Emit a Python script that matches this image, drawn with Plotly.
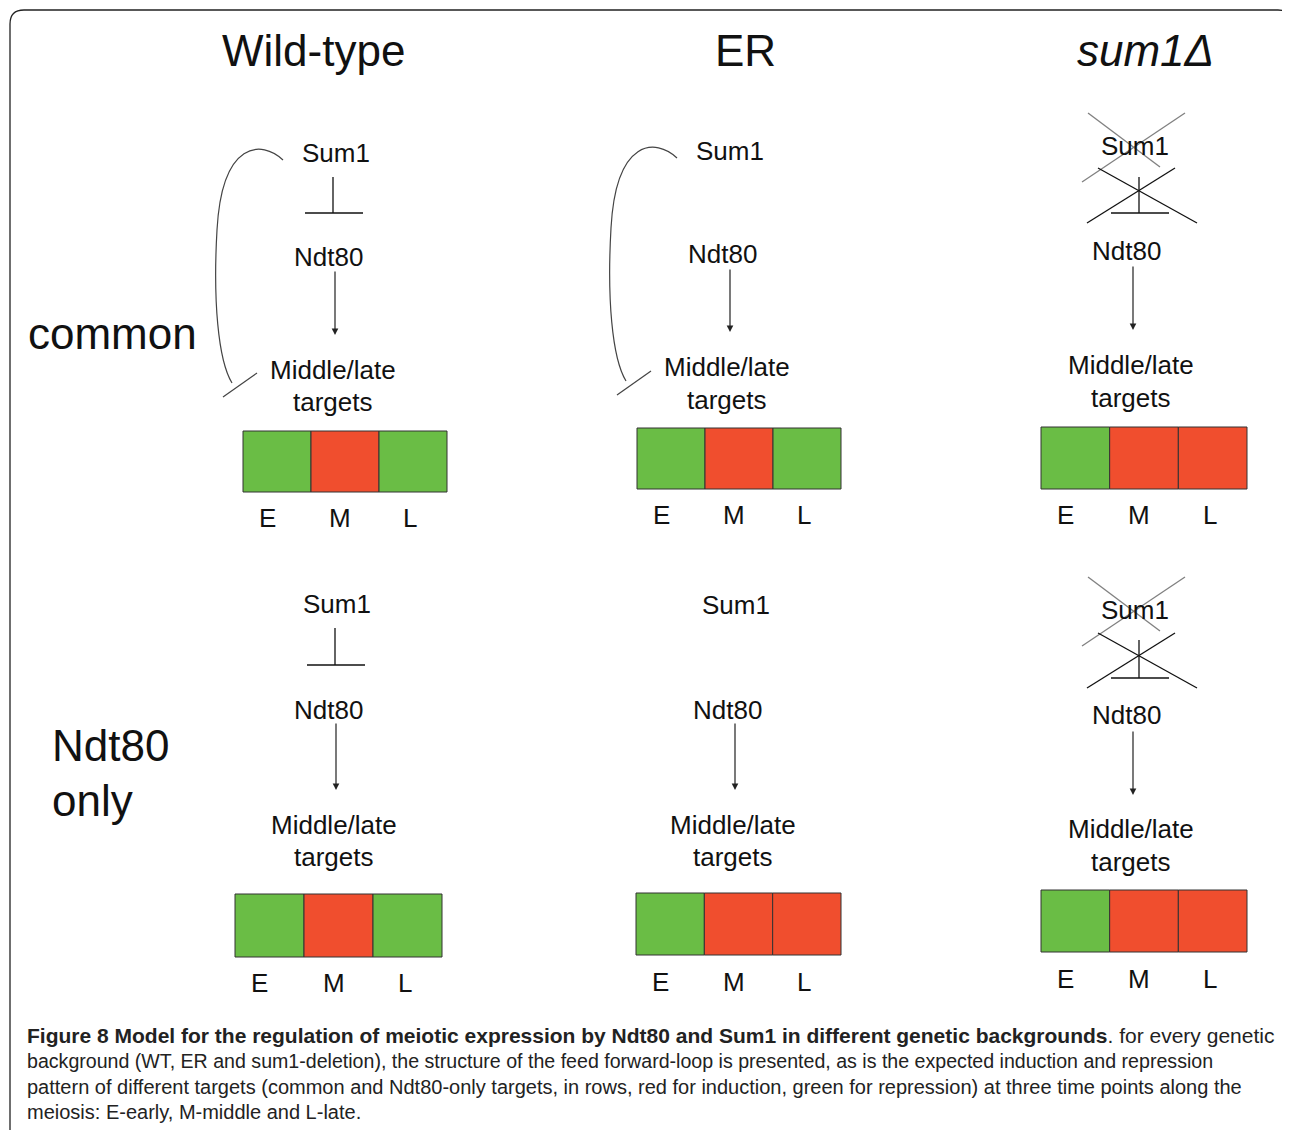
import plotly.graph_objects as go

# ---------------- data ----------------
backgrounds = ["Wild-type", "ER", "<i>sum1Δ</i>"]
target_sets = ["common", "Ndt80 only"]
time_points = ["E", "M", "L"]
# expression state per time point: "R" = induction (red), "G" = repression (green)
pattern_common = ["GRG", "GRG", "GRR"]
pattern_ndt80_only = ["GRG", "GRR", "GRR"]
# regulatory features per background
sum1_represses_ndt80 = ["yes", "no", "deleted"]
sum1_feedforward_common = ["yes", "yes", "no"]
node_sum1 = "Sum1"
node_ndt80 = "Ndt80"
node_targets = ["Middle/late", "targets"]
caption_lines = [
    "<b>Figure 8 Model for the regulation of meiotic expression by Ndt80 and Sum1 in different genetic backgrounds</b>. for every genetic",
    "background (WT, ER and sum1-deletion), the structure of the feed forward-loop is presented, as is the expected induction and repression",
    "pattern of different targets (common and Ndt80-only targets, in rows, red for induction, green for repression) at three time points along the",
    "meiosis: E-early, M-middle and L-late.",
]

# ---------------- styles / layout positions ----------------
GREEN = "#6abd45"
RED = "#f04e2e"
FONT = "Liberation Sans, Arial, sans-serif"
CAP_FONT = "Liberation Sans, Arial, sans-serif"
PAGE_OFFSET = 8  # browser body margin

title_x = [313, 745, 1145]
title_y = 50

# per panel geometry: (col,row) -> dict
G = {
    (0, 0): dict(sx=336, sy=153, nx=328, ny=257, ax=335, ay0=270, ay1=335, mx=333, my=370, ty=402, cx0=243, cx1=447, cy0=431, cy1=492, ey=518, tx=333, ty0=177, ty1=213),
    (1, 0): dict(sx=730, sy=151, nx=722, ny=254, ax=730, ay0=268, ay1=332, mx=727, my=367, ty=400, cx0=637, cx1=841, cy0=428, cy1=489, ey=515, tx=730, ty0=177, ty1=213),
    (2, 0): dict(sx=1135, sy=146, nx=1126, ny=251, ax=1133, ay0=265, ay1=330, mx=1131, my=365, ty=398, cx0=1041, cx1=1247, cy0=427, cy1=489, ey=515, tx=1139, ty0=177, ty1=213),
    (0, 1): dict(sx=337, sy=604, nx=328, ny=710, ax=336, ay0=722, ay1=790, mx=334, my=825, ty=857, cx0=235, cx1=442, cy0=894, cy1=957, ey=983, tx=335, ty0=628, ty1=665),
    (1, 1): dict(sx=736, sy=605, nx=727, ny=710, ax=735, ay0=722, ay1=790, mx=733, my=825, ty=857, cx0=636, cx1=841, cy0=893, cy1=955, ey=982, tx=735, ty0=628, ty1=665),
    (2, 1): dict(sx=1135, sy=610, nx=1126, ny=715, ax=1133, ay0=730, ay1=795, mx=1131, my=829, ty=862, cx0=1041, cx1=1247, cy0=890, cy1=952, ey=979, tx=1139, ty0=640, ty1=678),
}
label_dx = [-10, -5, -3]

fig = go.Figure()
shapes = []
ann = []

def text(x, y, s, size=26, anchor="center", color="#111", font=FONT):
    ann.append(dict(x=x, y=y, xref="x", yref="y", text=s, showarrow=False,
                    xanchor=anchor, yanchor="middle",
                    font=dict(family=font, size=size, color=color)))

def line(x0, y0, x1, y1, color="#111", width=1.3):
    shapes.append(dict(type="line", x0=x0, y0=y0, x1=x1, y1=y1, xref="x", yref="y",
                       line=dict(color=color, width=width)))

# outer rounded frame
shapes.append(dict(type="path", xref="x", yref="y",
                   path="M 10,1145 L 10,24 Q 10,10 24,10 L 1278,10 Q 1292,10 1292,24 L 1292,1145",
                   line=dict(color="#222", width=1.3)))

# column titles
for i, b in enumerate(backgrounds):
    text(title_x[i], title_y, b, size=44)

# row labels
text(112, 333, target_sets[0], size=44)
text(50, 745, target_sets[1].split(" ")[0], size=44, anchor="left")
text(50, 800, target_sets[1].split(" ")[1], size=44, anchor="left")

patterns = [pattern_common, pattern_ndt80_only]
for r in range(2):
    for c in range(3):
        g = G[(c, r)]
        # nodes
        text(g["sx"], g["sy"], node_sum1)
        text(g["nx"], g["ny"], node_ndt80)
        text(g["mx"], g["my"], node_targets[0])
        text(g["mx"], g["ty"], node_targets[1])
        # Ndt80 -> targets arrow
        ann.append(dict(x=g["ax"], y=g["ay1"], ax=g["ax"], ay=g["ay0"], xref="x", yref="y",
                        axref="x", ayref="y", text="", showarrow=True, arrowhead=2,
                        arrowsize=1.1, arrowwidth=1.2, arrowcolor="#222"))
        # Sum1 -| Ndt80
        state = sum1_represses_ndt80[c]
        if state in ("yes", "deleted"):
            line(g["tx"], g["ty0"], g["tx"], g["ty1"])
            line(g["tx"] - 28, g["ty1"], g["tx"] + 30, g["ty1"], width=1.6)
        if state == "deleted":
            # grey cross over Sum1, black cross over repression
            sx, sy = g["sx"], g["sy"]
            line(sx - 47, sy - 33, sx + 25, sy + 21, color="#808080", width=1.3)
            line(sx + 50, sy - 33, sx - 53, sy + 36, color="#808080", width=1.3)
            tx, tb = g["tx"], g["ty1"]
            line(tx - 41, tb - 45, tx + 58, tb + 10, color="#111", width=1.3)
            line(tx + 36, tb - 45, tx - 52, tb + 10, color="#111", width=1.3)
        # feed-forward repression arc (common targets only)
        if r == 0 and sum1_feedforward_common[c] == "yes":
            ox = g["sx"] - 336
            oy = g["sy"] - 153
            p = (f"M {283+ox},{160+oy} C {262+ox},{140+oy} {222+ox},{140+oy} {217+ox},{230+oy} "
                 f"C {213+ox},{300+oy} {218+ox},{360+oy} {232+ox},{383+oy}")
            shapes.append(dict(type="path", xref="x", yref="y", path=p,
                               line=dict(color="#444", width=1.2)))
            line(223 + ox, 397 + oy, 257 + ox, 373 + oy, color="#444", width=1.2)
        # expression cells
        pat = patterns[r][c]
        w = (g["cx1"] - g["cx0"]) / len(time_points)
        for k, tp in enumerate(time_points):
            x0 = g["cx0"] + k * w
            shapes.append(dict(type="rect", xref="x", yref="y", x0=x0, x1=x0 + w,
                               y0=g["cy0"], y1=g["cy1"],
                               fillcolor=RED if pat[k] == "R" else GREEN,
                               line=dict(color="#333", width=1)))
            text(x0 + w / 2 + label_dx[k], g["ey"], tp, size=26)

# caption
cap_y = [1035, 1061, 1087, 1112]
cap_size = [21, 19.6, 20, 20]
for yy, s, fs in zip(cap_y, caption_lines, cap_size):
    text(25, yy, s, size=fs, anchor="left", color="#222", font=CAP_FONT)

fig.update_layout(
    width=1290, height=1130,
    margin=dict(l=0, r=0, t=0, b=0),
    paper_bgcolor="white", plot_bgcolor="white",
    xaxis=dict(range=[PAGE_OFFSET, 1290 + PAGE_OFFSET], visible=False, fixedrange=True),
    yaxis=dict(range=[1130 + PAGE_OFFSET, PAGE_OFFSET], visible=False, fixedrange=True),
    shapes=shapes, annotations=ann, showlegend=False,
)
fig.write_html("out.html")
